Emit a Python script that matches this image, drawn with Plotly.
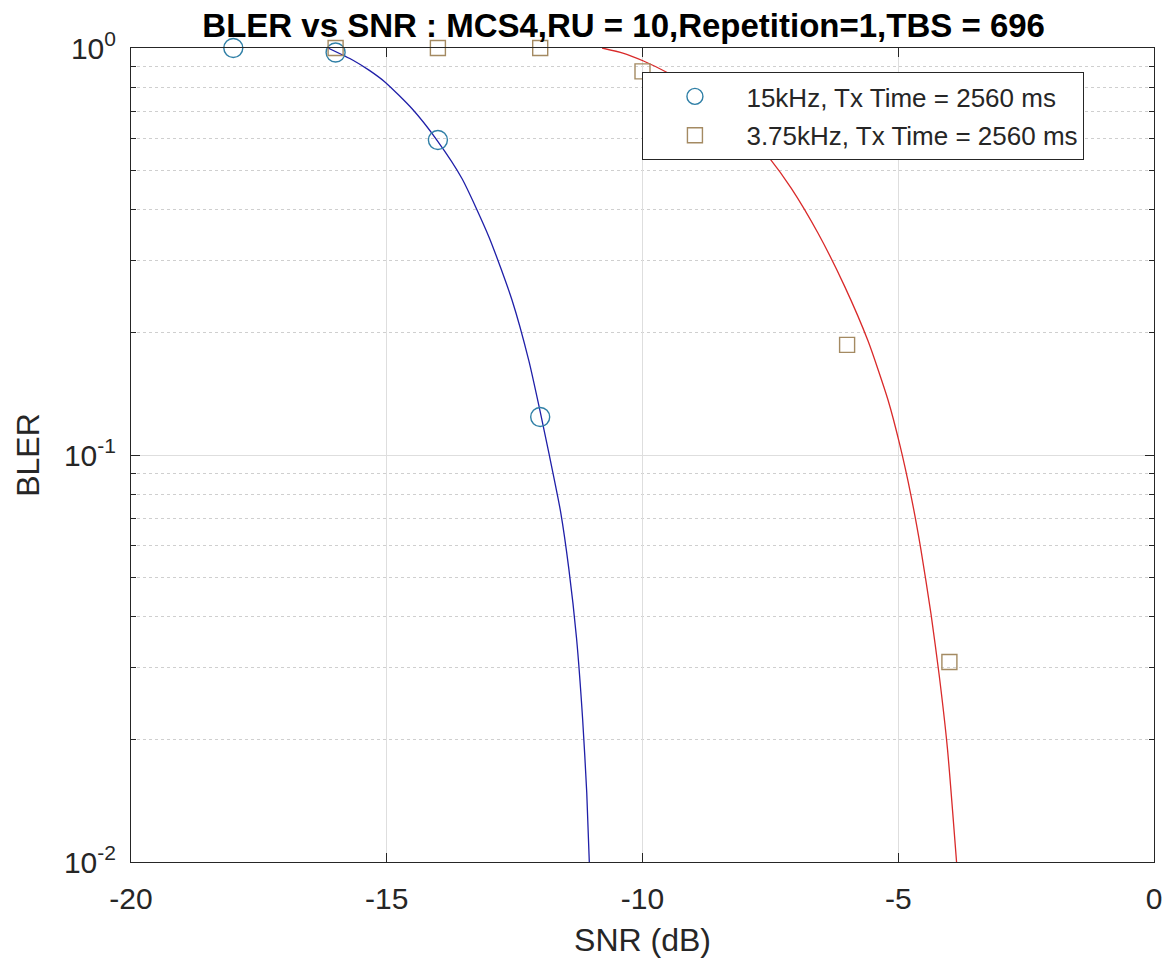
import plotly.graph_objects as go

# ---------------- data ----------------
snr_15k = [-18, -16, -14, -12]
bler_15k = [1.0, 0.975, 0.594, 0.124]

snr_375k = [-16, -14, -12, -10, -6, -4]
bler_375k = [1.0, 1.0, 1.0, 0.876, 0.1865, 0.031]

# fitted curves, points
fit15_snr = [-16.15, -15.66, -15.34, -15.02, -14.50, -14.02, -13.53, -13.0,
             -12.55, -12.22, -11.99, -11.83, -11.60, -11.44, -11.29, -11.17,
             -11.09, -11.04]
fit15_bler = [1.0, 0.933, 0.881, 0.822, 0.708, 0.594, 0.478, 0.343,
              0.240, 0.170, 0.126, 0.101, 0.0724, 0.0525, 0.0355, 0.0224,
              0.0148, 0.01]

fit375_snr = [-10.79, -10.40, -9.98, -9.49, -9.0, -8.5, -8.0, -7.51, -7.09,
              -6.57, -6.05, -5.59, -5.20, -4.97, -4.75, -4.56, -4.36, -4.20,
              -4.04, -3.86]
fit375_bler = [1.0, 0.973, 0.929, 0.867, 0.798, 0.716, 0.628, 0.535, 0.452,
               0.351, 0.260, 0.1905, 0.1365, 0.106, 0.0794, 0.0589, 0.0407,
               0.0288, 0.0191, 0.01]

x_ticks = [-20, -15, -10, -5, 0]
x_ticktext = ["-20", "-15", "-10", "-5", "0"]
y_ticks = [0.01, 0.1, 1]
y_ticktext = ["10<sup>-2</sup>", "10<sup>-1</sup>", "10<sup>0</sup>"]
y_minor = [0.02, 0.03, 0.04, 0.05, 0.06, 0.07, 0.08, 0.09,
           0.2, 0.3, 0.4, 0.5, 0.6, 0.7, 0.8, 0.9]

title_text = "BLER vs SNR : MCS4,RU = 10,Repetition=1,TBS = 696"
name_15k = "15kHz, Tx Time = 2560 ms"
name_375k = "3.75kHz, Tx Time = 2560 ms"

# ---------------- figure ----------------
FONT = "Liberation Sans, Arial, sans-serif"
AX = "#262626"

fig = go.Figure()

fig.add_trace(go.Scatter(x=fit15_snr, y=fit15_bler, mode="lines",
                         line=dict(color="#1f1fa8", width=1.3, shape="spline",
                                   smoothing=0.6),
                         showlegend=False, hoverinfo="skip"))
fig.add_trace(go.Scatter(x=fit375_snr, y=fit375_bler, mode="lines",
                         line=dict(color="#d92a2a", width=1.3, shape="spline",
                                   smoothing=0.6),
                         showlegend=False, hoverinfo="skip"))

fig.add_trace(go.Scatter(x=snr_15k, y=bler_15k, mode="markers", name=name_15k,
                         marker=dict(symbol="circle-open", size=19,
                                     color="#2f7fa6", line=dict(width=1.4)),
                         cliponaxis=False, legendgroup="a"))
fig.add_trace(go.Scatter(x=snr_375k, y=bler_375k, mode="markers", name=name_375k,
                         marker=dict(symbol="square-open", size=15,
                                     color="#a48a62", line=dict(width=1.4)),
                         cliponaxis=False, legendgroup="b"))

fig.update_layout(
    width=1166, height=957,
    margin=dict(l=123, r=17, t=40, b=103),
    paper_bgcolor="white", plot_bgcolor="white",
    font=dict(family=FONT, color=AX),
    title=dict(text="<b>" + title_text + "</b>", x=0.528, xanchor="center",
               y=0.9822, yanchor="middle",
               font=dict(family=FONT, size=33, color="black")),
    showlegend=True,
    legend=dict(x=0.932, xanchor="right", y=0.9705, yanchor="top",
                bgcolor="white", bordercolor=AX, borderwidth=1,
                font=dict(family=FONT, size=26, color=AX),
                traceorder="grouped", tracegroupgap=2,
                itemwidth=93),
)

fig.update_xaxes(
    range=[-20, 0], tickvals=x_ticks, ticktext=x_ticktext,
    showline=True, linecolor=AX, linewidth=1, mirror="allticks",
    ticks="inside", ticklen=9, tickcolor=AX,
    showgrid=True, gridcolor="#dedede", gridwidth=1,
    zeroline=False, ticklabelstandoff=10,
    tickfont=dict(family=FONT, size=30, color=AX),
    title=dict(text="SNR (dB)", font=dict(family=FONT, size=32, color=AX),
               standoff=14),
)

fig.update_yaxes(
    type="log", range=[-2, 0], tickvals=y_ticks, ticktext=y_ticktext,
    showline=True, linecolor=AX, linewidth=1, mirror="allticks",
    ticks="inside", ticklen=9, tickcolor=AX,
    showgrid=True, gridcolor="#dedede", gridwidth=1,
    zeroline=False, ticklabelstandoff=8,
    tickfont=dict(family=FONT, size=30, color=AX),
    minor=dict(tickvals=y_minor, ticks="inside", ticklen=5, tickcolor=AX,
               showgrid=True, gridcolor="#cfcfcf", griddash="dot", gridwidth=1),
    title=dict(text="BLER", font=dict(family=FONT, size=32, color=AX),
               standoff=14),
)

fig.write_html("out.html")
